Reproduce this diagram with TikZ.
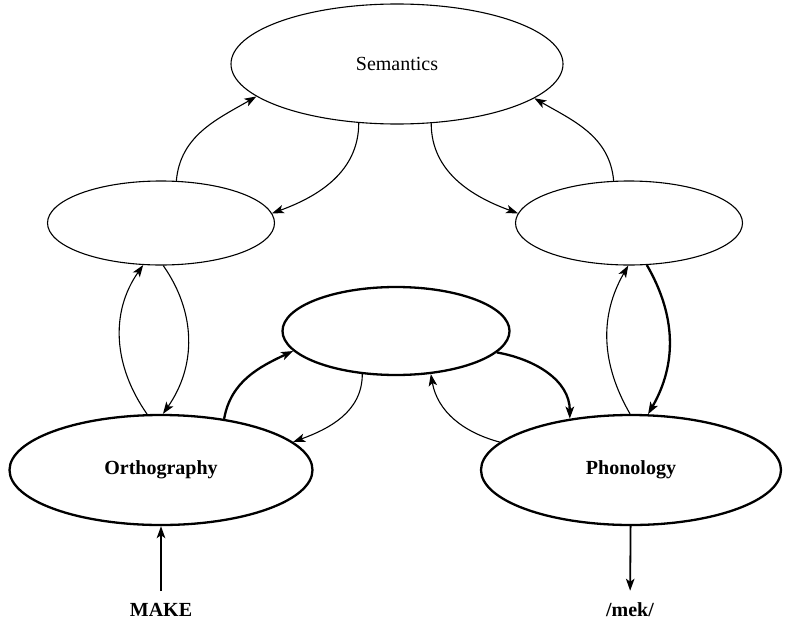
\documentclass[tikz,border=0pt]{standalone}
\usepackage{fontspec}
\setmainfont{Liberation Serif}
\usetikzlibrary{arrows.meta,shapes.geometric}
\begin{document}
\begin{tikzpicture}[x=1pt,y=-1pt,
		box/.style={draw,ellipse,inner sep=0pt,line width=1.1pt,font=\fontsize{20}{24}\selectfont},
		bigbox/.style={box,line width=2.3pt,font=\fontsize{20}{24}\selectfont\bfseries},
		word/.style={inner sep=12pt,font=\fontsize{20}{24}\selectfont\bfseries},
		link/.style={-{Stealth[length=12pt,width=8.5pt,inset=3pt]},line width=1.1pt},
		boldlink/.style={link,line width=2.3pt}]
				\useasboundingbox (0,0) rectangle (786,626);
				\node[box,minimum width=332pt,minimum height=120pt] (sem) at (397,64) {Semantics};
				\node[box,minimum width=227pt,minimum height=84pt] (ohid) at (161,223) {};
				\node[box,minimum width=227pt,minimum height=84pt] (phid) at (629,223) {};
				\node[bigbox,minimum width=227pt,minimum height=88pt] (mid) at (396,331) {};
				\node[bigbox,minimum width=303pt,minimum height=110pt] (orth) at (161,470) {Orthography};
				\node[bigbox,minimum width=300pt,minimum height=110pt] (phon) at (631,470) {Phonology};
				\node[word] (make) at (161,610) {MAKE};
				\node[word] (mek) at (630,610) {/mek/};
				% semantics loops
				\draw[link] (ohid.70) to[out=85,in=210] (sem.193);
				\draw[link] (sem.237) to[out=270,in=20] (ohid.5);
				\draw[link] (sem.300) to[out=270,in=160] (phid.175);
				\draw[link] (phid.110) to[out=95,in=330] (sem.346);
				% side loops
				\draw[link] (orth.104) to[out=125,in=235] (ohid.247);
				\draw[link] (ohid.273) to[out=305,in=55] (orth.88);
				\draw[link] (phon.91) to[out=120,in=240] (phid.269);
				\draw[boldlink] (phid.293) to[out=300,in=60] (phon.73);
				% middle route
				\draw[boldlink] (orth.39) to[out=80,in=205] (mid.191);
				\draw[link] (mid.232) to[out=270,in=20] (orth.12);
				\draw[boldlink] (mid.348) to[out=-10,in=90] (phon.140);
				\draw[link] (phon.168) to[out=165,in=280] (mid.309);
				% input and output
				\draw[boldlink,line width=1.8pt] (make) -- (orth);
				\draw[boldlink,line width=1.8pt] (phon) -- (mek);
\end{tikzpicture}
\end{document}
